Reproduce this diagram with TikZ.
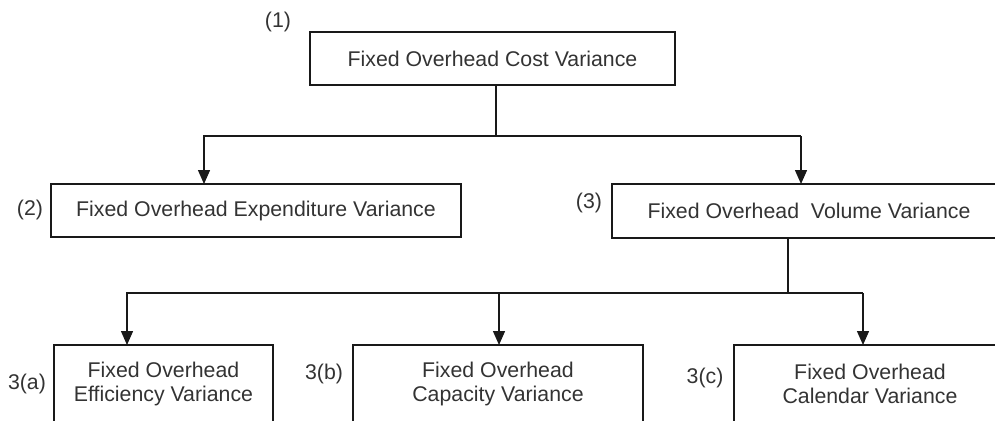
\documentclass[tikz,border=0pt]{standalone}
\usepackage{fontspec}
\setmainfont{Liberation Sans}
\usetikzlibrary{arrows.meta}
\colorlet{variance text color}{black!80}
\colorlet{variance line color}{black!90}
\tikzset{
    x={1pt},
    y={-1pt},
    variance box/.style 2 args={
        draw=variance line color,
        line width={1.4pt},
        rectangle,
        inner sep=0pt,
        outer sep=0pt,
        minimum width={#1},
        minimum height={#2},
        align=center,
        font={\fontsize{21.3}{24}\selectfont\color{variance text color}},
    },
    variance number/.style={
        inner sep=0pt,
        font={\fontsize{21.3}{24}\selectfont\color{variance text color}},
    },
    connector/.style={
        draw=variance line color,
        line width={1.4pt},
    },
    arrow connector/.style={
        connector,
        -{Triangle[width=12pt,length=14pt]},
    },
}

\begin{document}
\begin{tikzpicture}
\clip (0,0) rectangle (995,420);
% boxes
\node[variance box={365}{53}] (cost) at (492.5,58.5) {Fixed Overhead Cost Variance};
\node[variance box={410}{53}] (expenditure) at (256,210.5) {Fixed Overhead Expenditure Variance};
\node[variance box={394}{54}] (volume) at (809,211) {Fixed Overhead~ Volume Variance};
\node[variance box={219}{77}] (efficiency) at (163.5,383.5) {Fixed Overhead\\Efficiency Variance};
\node[variance box={290}{77}] (capacity) at (498,383.5) {Fixed Overhead\\Capacity Variance};
\node[variance box={272}{77}] (calendar) at (870,383.5) {Fixed Overhead\\Calendar Variance};
% numbers
\node[variance number] (cost number) at (278,22) {(1)};
\node[variance number] (expenditure number) at (30,210) {(2)};
\node[variance number] (volume number) at (589,203) {(3)};
\node[variance number] (efficiency number) at (27,384) {3(a)};
\node[variance number] (capacity number) at (324,374) {3(b)};
\node[variance number] (calendar number) at (705,378) {3(c)};
% forks
\coordinate (cost stem) at (496,136);
\coordinate (expenditure fork) at (204,136);
\coordinate (volume fork) at (801,136);
\coordinate (volume stem) at (788,293);
\coordinate (efficiency fork) at (127,293);
\coordinate (capacity fork) at (499,293);
\coordinate (calendar fork) at (863,293);
% connectors
\draw[connector] (cost.south -| cost stem) -- (cost stem);
\draw[arrow connector] (volume fork) -- (expenditure fork) -- (expenditure fork |- expenditure.north);
\draw[arrow connector] (volume fork) -- (volume fork |- volume.north);
\draw[connector] (volume.south -| volume stem) -- (volume stem);
\draw[arrow connector] (calendar fork) -- (efficiency fork) -- (efficiency fork |- efficiency.north);
\draw[arrow connector] (capacity fork) -- (capacity fork |- capacity.north);
\draw[arrow connector] (calendar fork) -- (calendar fork |- calendar.north);
\end{tikzpicture}
\end{document}
